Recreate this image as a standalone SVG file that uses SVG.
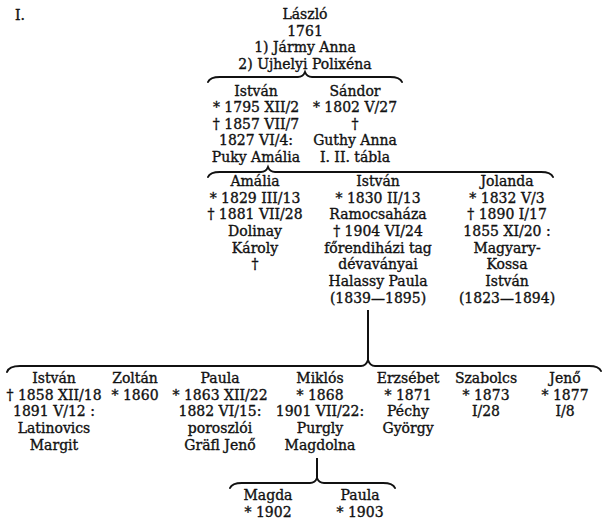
<svg xmlns="http://www.w3.org/2000/svg" width="610" height="523" viewBox="0 0 610 523">
<style>
text{font-family:"DejaVu Serif","Liberation Serif",serif;font-size:14px;fill:#111;stroke:#111;stroke-width:0.35;text-anchor:middle}
.brace{fill:none;stroke:#111;stroke-width:2;stroke-linecap:round}
.line{fill:none;stroke:#111;stroke-width:2}
</style>
<rect width="610" height="523" fill="#fff"/>
<text x="15" y="20" style="text-anchor:start">I.</text>
<g id="laszlo">
<text x="305" y="19">László</text>
<text x="305" y="35.7">1761</text>
<text x="305" y="52.3">1) Jármy Anna</text>
<text x="305" y="69">2) Ujhelyi Polixéna</text>
</g>
<g id="istvan1">
<text x="256" y="95.5">István</text>
<text x="256" y="112">* 1795 XII/2</text>
<text x="256" y="128.7">† 1857 VII/7</text>
<text x="256" y="145.3">1827 VI/4:</text>
<text x="256" y="162">Puky Amália</text>
</g>
<g id="sandor">
<text x="355" y="95.5">Sándor</text>
<text x="355" y="112">* 1802 V/27</text>
<text x="355" y="128.7">†</text>
<text x="355" y="145.3">Guthy Anna</text>
<text x="355" y="162">I. II. tábla</text>
</g>
<g id="amalia">
<text x="255" y="186">Amália</text>
<text x="255" y="202.7">* 1829 III/13</text>
<text x="255" y="219.4">† 1881 VII/28</text>
<text x="255" y="236">Dolinay</text>
<text x="255" y="252.7">Károly</text>
<text x="255" y="269.4">†</text>
</g>
<g id="istvan2">
<text x="378" y="186">István</text>
<text x="378" y="202.7">* 1830 II/13</text>
<text x="378" y="219.4">Ramocsaháza</text>
<text x="378" y="236">† 1904 VI/24</text>
<text x="378" y="252.7">főrendiházi tag</text>
<text x="378" y="269.4">dévaványai</text>
<text x="378" y="286">Halassy Paula</text>
<text x="378" y="302.7">(1839—1895)</text>
</g>
<g id="jolanda">
<text x="507" y="186">Jolanda</text>
<text x="507" y="202.7">* 1832 V/3</text>
<text x="507" y="219.4">† 1890 I/17</text>
<text x="507" y="236">1855 XI/20 :</text>
<text x="507" y="252.7">Magyary-</text>
<text x="507" y="269.4">Kossa</text>
<text x="507" y="286">István</text>
<text x="507" y="302.7">(1823—1894)</text>
</g>
<g id="istvan3">
<text x="54" y="383">István</text>
<text x="54" y="399.7">† 1858 XII/18</text>
<text x="54" y="416.4">1891 V/12 :</text>
<text x="54" y="433">Latinovics</text>
<text x="54" y="449.7">Margit</text>
</g>
<g id="zoltan">
<text x="135" y="383">Zoltán</text>
<text x="135" y="399.7">* 1860</text>
</g>
<g id="paula1">
<text x="220" y="383">Paula</text>
<text x="220" y="399.7">* 1863 XII/22</text>
<text x="220" y="416.4">1882 VI/15:</text>
<text x="220" y="433">poroszlói</text>
<text x="220" y="449.7">Gräfl Jenő</text>
</g>
<g id="miklos">
<text x="320" y="383">Miklós</text>
<text x="320" y="399.7">* 1868</text>
<text x="320" y="416.4">1901 VII/22:</text>
<text x="320" y="433">Purgly</text>
<text x="320" y="449.7">Magdolna</text>
</g>
<g id="erzsebet">
<text x="408" y="383">Erzsébet</text>
<text x="408" y="399.7">* 1871</text>
<text x="408" y="416.4">Péchy</text>
<text x="408" y="433">György</text>
</g>
<g id="szabolcs">
<text x="486" y="383">Szabolcs</text>
<text x="486" y="399.7">* 1873</text>
<text x="486" y="416.4">I/28</text>
</g>
<g id="jeno">
<text x="565" y="383">Jenő</text>
<text x="565" y="399.7">* 1877</text>
<text x="565" y="416.4">I/8</text>
</g>
<g id="magda">
<text x="268" y="500">Magda</text>
<text x="268" y="516.7">* 1902</text>
</g>
<g id="paula2">
<text x="360" y="500">Paula</text>
<text x="360" y="516.7">* 1903</text>
</g>
<g id="connectors">
<path class="brace" d="M208 82 Q210 77 220 77 L298 77 Q303 77 305 72 Q307 77 312 77 L390 77 Q400 77 402 82"/>
<path class="brace" d="M208 177 Q210 172 220 172 L261 172 Q266 172 268 167 Q270 172 275 172 L541 172 Q551 172 553 177"/>
<path class="line" d="M368 310 L368 360"/>
<path class="brace" d="M7 372 Q9 366 20 366 L361 366 Q366 366 368 360 Q370 366 375 366 L589 366 Q599 366 601 371"/>
<path class="line" d="M317 458 L317 478"/>
<path class="brace" d="M230 488 Q232 483 242 483 L310 483 Q315 483 317 478 Q319 483 324 483 L383 483 Q393 483 395 488"/>
</g>
</svg>
